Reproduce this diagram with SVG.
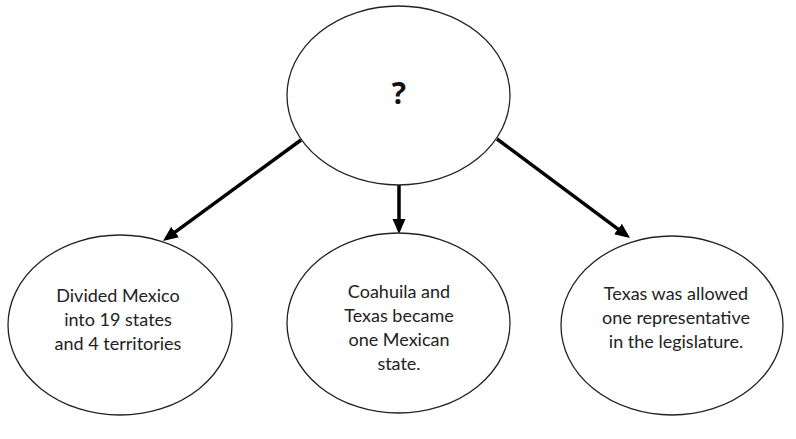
<svg xmlns="http://www.w3.org/2000/svg" width="796" height="439" viewBox="0 0 796 439">
<defs>
<marker id="ah" markerUnits="userSpaceOnUse" markerWidth="18" markerHeight="14" refX="11" refY="6.5" orient="auto">
<path d="M0,0 L15,6.5 L0,13 z" fill="#000"/>
</marker>
<style>
.node{fill:#fff;stroke:#222;stroke-width:1.3}
.lbl{font-family:Lato,"Open Sans","Liberation Sans",sans-serif;font-size:18px;fill:#222;text-anchor:middle}
.q{font-family:"Open Sans","Liberation Sans",sans-serif;font-size:30px;font-weight:bold;fill:#111;text-anchor:middle}
.conn{stroke:#000;stroke-width:3.5;fill:none;marker-end:url(#ah)}
</style>
</defs>
<rect width="796" height="439" fill="#fff"/>
<g id="connectors">
<line class="conn" x1="301" y1="140" x2="166.2" y2="238.6"/>
<line class="conn" x1="399" y1="185" x2="399" y2="230"/>
<line class="conn" x1="497" y1="139" x2="626.8" y2="235.6"/>
</g>
<g id="top">
<ellipse class="node" cx="398.5" cy="95.5" rx="111.5" ry="89.5"/>
<text class="q" x="399" y="104">?</text>
</g>
<g id="left">
<ellipse class="node" cx="120" cy="325" rx="112" ry="90"/>
<text class="lbl" x="118"><tspan x="118" y="302">Divided Mexico</tspan><tspan x="118" y="326">into 19 states</tspan><tspan x="118" y="350">and 4 territories</tspan></text>
</g>
<g id="middle">
<ellipse class="node" cx="398.5" cy="323" rx="111.5" ry="90"/>
<text class="lbl" x="399"><tspan x="399" y="298">Coahuila and</tspan><tspan x="399" y="322">Texas became</tspan><tspan x="399" y="346">one Mexican</tspan><tspan x="399" y="370">state.</tspan></text>
</g>
<g id="right">
<ellipse class="node" cx="672" cy="325.5" rx="111" ry="89.5"/>
<text class="lbl" x="676"><tspan x="676" y="300">Texas was allowed</tspan><tspan x="676" y="324">one representative</tspan><tspan x="676" y="348">in the legislature.</tspan></text>
</g>
</svg>
